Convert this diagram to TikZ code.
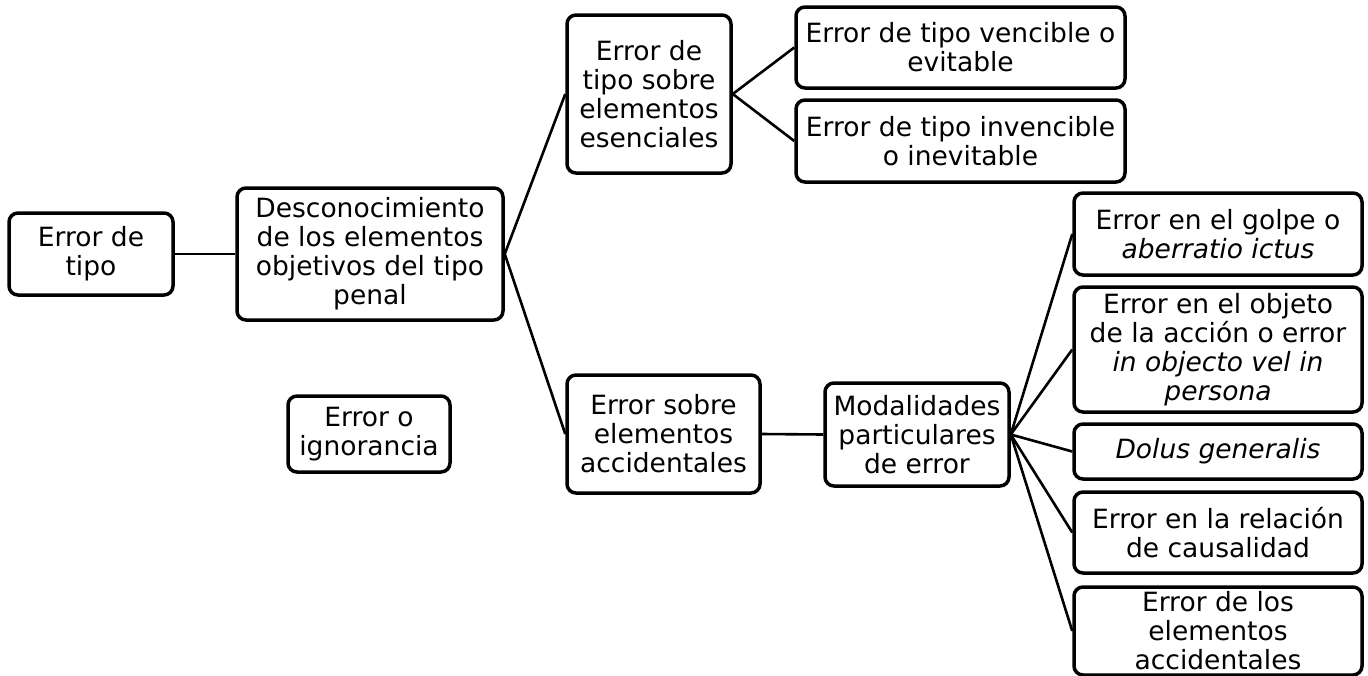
\documentclass[tikz,border=0pt]{standalone}
\usepackage{fontspec}
\setmainfont{DejaVu Sans}
\begin{document}
\begin{tikzpicture}[x=1pt,y=-1pt,
  box/.style={draw=black, line width=3.5pt, rounded corners=9pt, align=center,
    inner sep=0pt, font=\fontsize{26.5}{29}\selectfont},
  conn/.style={draw=black, line width=2.6pt}]
\useasboundingbox (0,0) rectangle (1368,675);
\node[box, minimum width=164pt, minimum height=82pt] (tipo) at (91,254) {Error de\\tipo};
\node[box, minimum width=266pt, minimum height=132pt] (desc) at (370,254) {Desconocimiento\\de los elementos\\objetivos del tipo\\penal};
\node[box, minimum width=162pt, minimum height=76pt] (ign) at (369,434) {Error o\\ignorancia};
\node[box, minimum width=164pt, minimum height=158pt] (esen) at (649,94) {Error de\\tipo sobre\\elementos\\esenciales};
\node[box, minimum width=329pt, minimum height=81pt] (venc) at (960.5,47.5) {Error de tipo vencible o\\evitable};
\node[box, minimum width=329pt, minimum height=82pt] (inv) at (960.5,141) {Error de tipo invencible\\o inevitable};
\node[box, minimum width=193pt, minimum height=118pt] (acc) at (663.5,434) {Error sobre\\elementos\\accidentales};
\node[box, minimum width=184pt, minimum height=103pt] (mod) at (917,434.5) {Modalidades\\particulares\\de error};
\node[box, minimum width=288pt, minimum height=82pt] (golpe) at (1218,234) {Error en el golpe o\\\textit{aberratio ictus}};
\node[box, minimum width=288pt, minimum height=125pt] (objeto) at (1218,349.5) {Error en el objeto\\de la acción o error\\\textit{in objecto vel in}\\\textit{persona}};
\node[box, minimum width=288pt, minimum height=55pt] (dolus) at (1218,451.5) {\textit{Dolus generalis}};
\node[box, minimum width=288pt, minimum height=81pt] (rel) at (1218,532.5) {Error en la relación\\de causalidad};
\node[box, minimum width=288pt, minimum height=88pt] (los) at (1218,631) {Error de los\\elementos\\accidentales};
\draw[conn] (tipo.east) -- (desc.west);
\draw[conn] (desc.east) -- (esen.west);
\draw[conn] (desc.east) -- (acc.west);
\draw[conn] (esen.east) -- (venc.west);
\draw[conn] (esen.east) -- (inv.west);
\draw[conn] (acc.east) -- (mod.west);
\draw[conn] (mod.east) -- (golpe.west);
\draw[conn] (mod.east) -- (objeto.west);
\draw[conn] (mod.east) -- (dolus.west);
\draw[conn] (mod.east) -- (rel.west);
\draw[conn] (mod.east) -- (los.west);
\end{tikzpicture}
\end{document}
